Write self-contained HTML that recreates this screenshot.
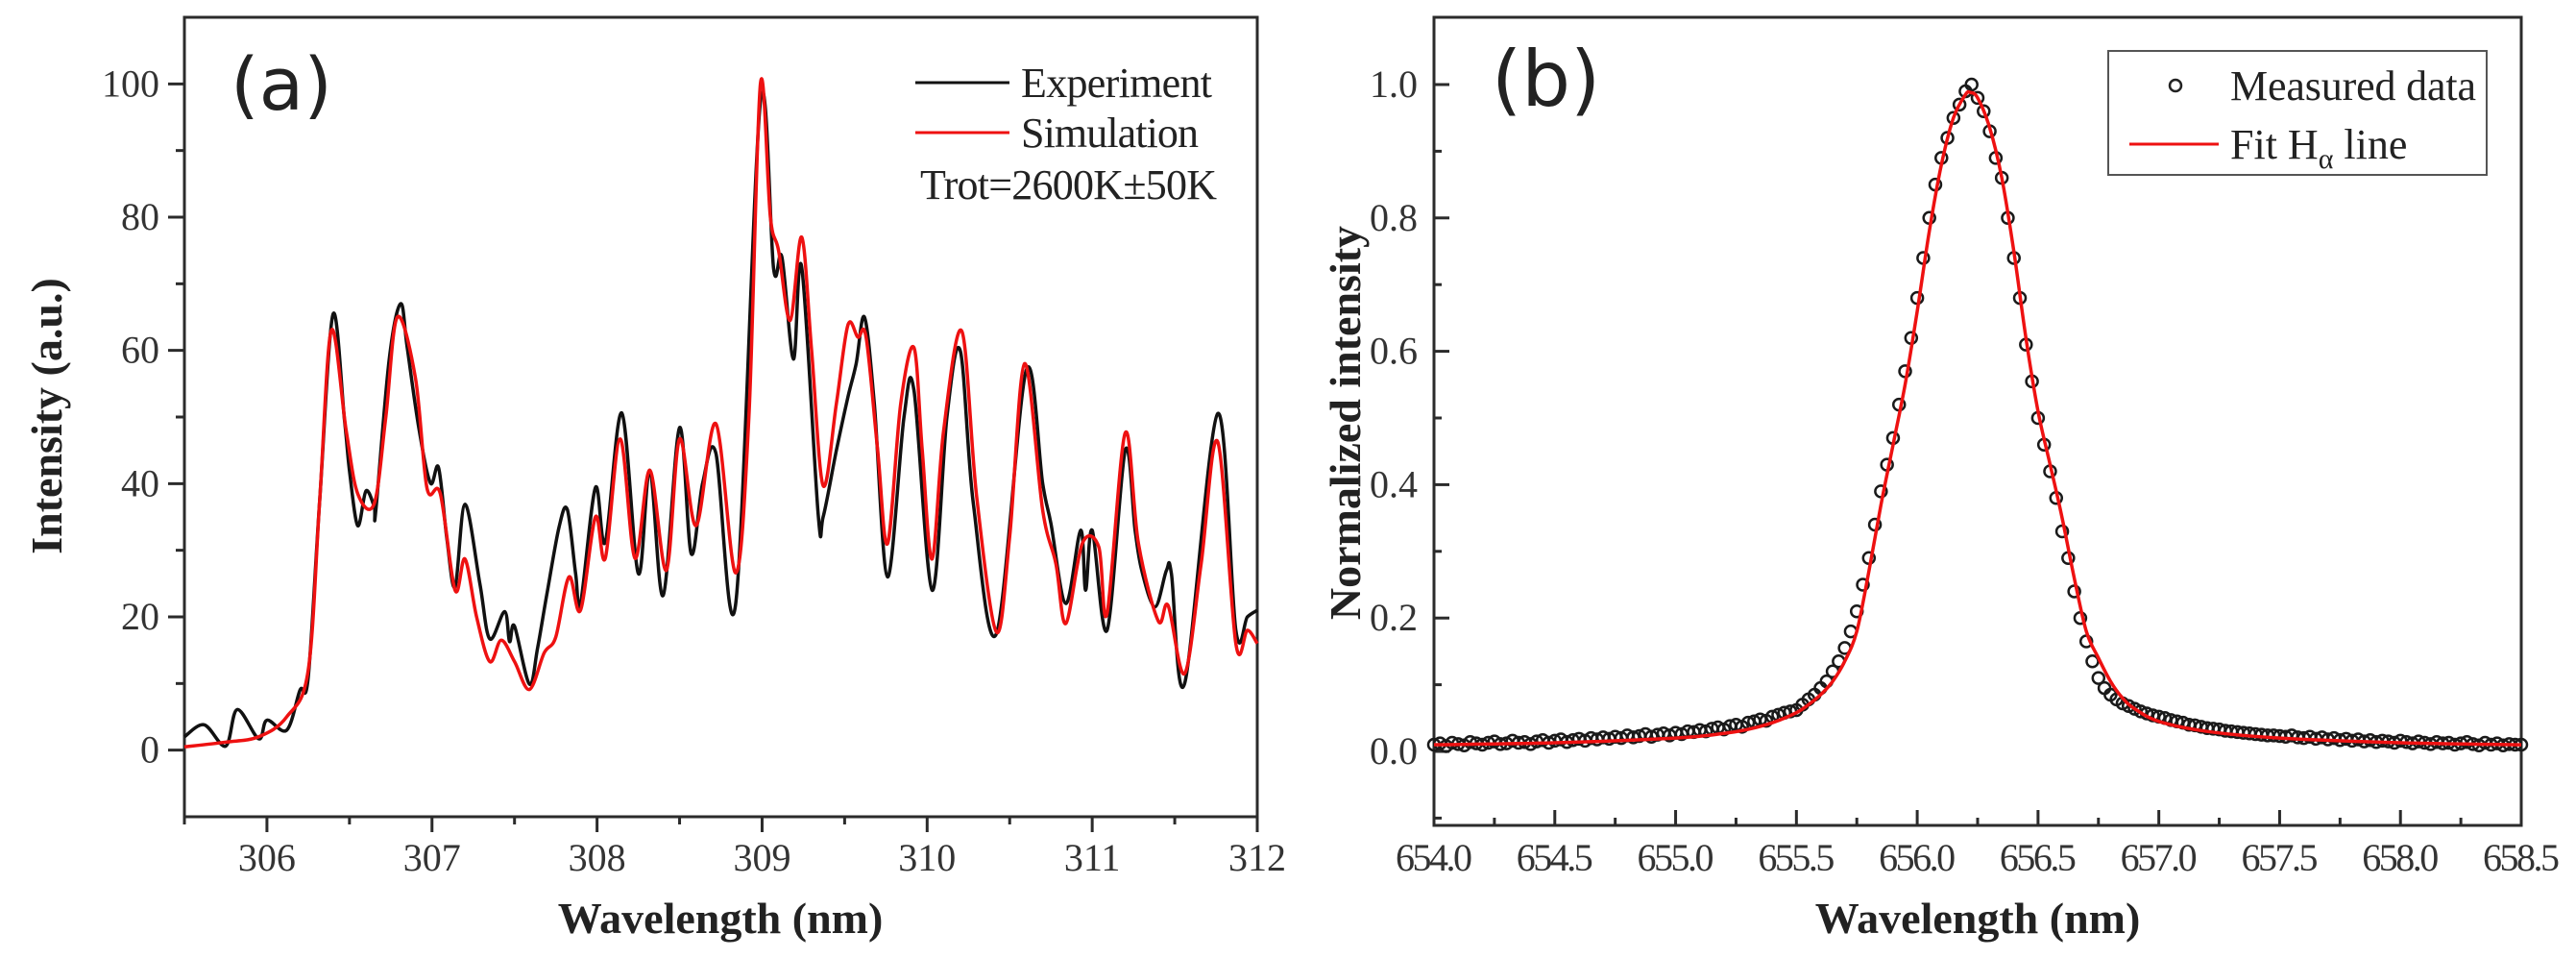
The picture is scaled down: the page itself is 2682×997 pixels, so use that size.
<!DOCTYPE html>
<html><head><meta charset="utf-8"><style>
html,body{margin:0;padding:0;background:#fff;}
svg{display:block;font-family:"Liberation Serif",serif;}
</style></head><body>
<svg id="fig" width="2682" height="997" viewBox="0 0 2682 997" xmlns="http://www.w3.org/2000/svg">
<g id="chartA"></g>
<g id="chartB"></g>
</svg>
<script>
// ---------- Chart (a) data ----------
const expX = [305.5,305.62,305.75,305.82,305.95,306.0,306.12,306.2,306.25,306.32,306.4,306.47,306.5,306.55,306.6,306.65,306.66,306.74,306.81,306.85,306.92,306.99,307.04,307.09,307.14,307.2,307.29,307.35,307.44,307.47,307.5,307.59,307.64,307.7,307.77,307.82,307.87,307.9,307.99,308.05,308.15,308.25,308.32,308.4,308.5,308.57,308.64,308.72,308.84,308.99,309.07,309.12,309.19,309.24,309.34,309.37,309.45,309.52,309.57,309.62,309.68,309.76,309.86,309.92,310.03,310.12,310.2,310.28,310.42,310.6,310.7,310.75,310.84,310.93,310.96,311.0,311.09,311.2,311.26,311.3,311.38,311.45,311.48,311.56,311.76,311.87,311.94,312.0];
const expY = [2,3.8,0.6,6.1,1.7,4.5,3,9,10.9,37.6,65.4,49.5,42,33.7,38.9,36.6,36,58.5,67,60.4,48.4,40.1,42.4,31.8,24.5,36.9,25,16.7,20.8,16.3,18.6,9.9,15.4,24,33.5,36.1,26.5,22,39.4,31.2,50.6,26.5,42,23.2,48.4,29.5,40.1,44.6,22,97.3,72.2,74,58.7,72.5,35.3,35,45,53,58,65,52,26,50,54,24,50,60,37,17.5,57,40,34,22,33,24,33,18,45,33,27,21.5,27,26.5,10,50.5,18,20,21];
const simX = [305.5,305.75,305.95,306.12,306.25,306.32,306.39,306.48,306.55,306.65,306.72,306.79,306.9,306.97,307.05,307.14,307.2,307.27,307.35,307.42,307.5,307.59,307.68,307.75,307.83,307.9,307.99,308.05,308.14,308.23,308.32,308.42,308.5,308.6,308.72,308.84,308.92,308.99,309.05,309.1,309.17,309.24,309.3,309.37,309.45,309.52,309.58,309.63,309.7,309.76,309.84,309.92,309.97,310.03,310.1,310.21,310.3,310.42,310.5,310.59,310.7,310.78,310.84,310.94,311.04,311.09,311.2,311.28,311.4,311.46,311.56,311.66,311.76,311.87,311.94,312.0];
const simY = [0.5,1.2,2.0,5,12,37.6,63,48,38.5,37,50,65,55.8,39.3,38.5,24,28.7,20,13.3,16.5,13.3,9.1,14.6,17,26,21,35,28.8,46.7,28.8,42,27,46.7,33.7,49,26.6,50,100,80,75,64.5,77,60,39.7,52,63.8,62,62,45,31,52,60.4,45,28.7,48,62.9,38,17.7,32,58,36,28,19,31,30.5,20.5,47.6,31,19.4,21.7,11.5,28,46.3,16,18,16];
const aYTicks = [0,20,40,60,80,100];
const aXTicks = [306,307,308,309,310,311,312];

// ---------- Chart (b) data ----------
const measStart = 654.0, measStep = 0.025;
const measY = [0.010,0.012,0.008,0.013,0.011,0.009,0.014,0.012,0.010,0.013,0.015,0.011,0.012,0.016,0.013,0.014,0.011,0.015,0.017,0.013,0.016,0.018,0.014,0.017,0.019,0.016,0.020,0.018,0.021,0.019,0.022,0.020,0.024,0.021,0.023,0.026,0.022,0.025,0.027,0.024,
0.028,0.026,0.030,0.029,0.032,0.030,0.034,0.036,0.033,0.038,0.040,0.037,0.043,0.045,0.048,0.046,0.052,0.055,0.058,0.060,
0.062,0.070,0.078,0.085,0.095,0.105,0.12,0.135,0.155,0.18,0.21,0.25,0.29,0.34,0.39,0.43,0.47,0.52,0.57,0.62,
0.68,0.74,0.80,0.85,0.89,0.92,0.95,0.97,0.99,1.00,0.98,0.96,0.93,0.89,0.86,0.80,0.74,0.68,0.61,0.555,
0.50,0.46,0.42,0.38,0.33,0.29,0.24,0.20,0.165,0.135,0.11,0.095,0.085,0.078,0.072,0.068,0.064,0.060,0.057,0.054,
0.052,0.050,0.047,0.045,0.043,0.040,0.039,0.037,0.035,0.034,0.033,0.031,0.030,0.029,0.028,0.027,0.026,0.025,0.024,0.024,
0.023,0.022,0.024,0.021,0.020,0.022,0.019,0.021,0.018,0.020,0.017,0.019,0.016,0.018,0.015,0.017,0.014,0.016,0.015,0.013,0.016,0.014,0.012,0.015,0.013,0.011,0.014,0.012,0.013,0.010,0.012,0.014,0.011,0.009,0.013,0.010,0.012,0.009,0.011,0.010,
0.010];
const fitX = [654.0,654.5,655.0,655.2,655.3,655.4,655.5,655.55,655.6,655.65,655.7,655.75,655.8,655.85,655.9,655.95,656.0,656.05,656.1,656.15,656.2,656.22,656.25,656.3,656.35,656.4,656.45,656.5,656.55,656.6,656.65,656.7,656.75,656.8,656.85,656.9,657.0,657.2,657.5,658.0,658.5];
const fitY = [0.010,0.013,0.020,0.027,0.033,0.043,0.058,0.070,0.085,0.105,0.135,0.18,0.27,0.37,0.46,0.55,0.66,0.78,0.88,0.95,0.985,0.988,0.98,0.935,0.86,0.75,0.62,0.51,0.43,0.35,0.26,0.18,0.14,0.105,0.08,0.064,0.045,0.030,0.020,0.013,0.010];
const bYTicks = [0.0,0.2,0.4,0.6,0.8,1.0];
const bXTicks = [654.0,654.5,655.0,655.5,656.0,656.5,657.0,657.5,658.0,658.5];

const NS = "http://www.w3.org/2000/svg";
function mk(parent, tag, attrs){ const e=document.createElementNS(NS,tag); for(const k in attrs) e.setAttribute(k,attrs[k]); parent.appendChild(e); return e; }
function smooth(pts){
  let d='M'+pts[0][0]+','+pts[0][1];
  for(let i=0;i<pts.length-1;i++){
    const p0=pts[Math.max(0,i-1)],p1=pts[i],p2=pts[i+1],p3=pts[Math.min(pts.length-1,i+2)];
    const c1x=p1[0]+(p2[0]-p0[0])/6,c1y=p1[1]+(p2[1]-p0[1])/6;
    const c2x=p2[0]-(p3[0]-p1[0])/6,c2y=p2[1]-(p3[1]-p1[1])/6;
    d+=' C'+c1x.toFixed(1)+','+c1y.toFixed(1)+' '+c2x.toFixed(1)+','+c2y.toFixed(1)+' '+p2[0].toFixed(1)+','+p2[1].toFixed(1);
  }
  return d;
}
const AX = "#2b2b2b";

// ---------- Chart A ----------
(function(){
  const g = document.getElementById('chartA');
  const L=192,R=1309,T=18,B=850;
  const x0=305.5,x1=312,y0=-10,y1=110;
  const xs=v=>L+(v-x0)/(x1-x0)*(R-L);
  const ys=v=>B-(v-y0)/(y1-y0)*(B-T);
  const frame = mk(g,'rect',{x:L,y:T,width:R-L,height:B-T,fill:'none',stroke:AX,'stroke-width':3});
  
  
  for(let v=0; v<=100; v+=10){
    const major = v%20===0;
    const t = mk(g,'line',{x1:L-(major?17:9),x2:L,y1:ys(v),y2:ys(v),stroke:AX,'stroke-width':3});
    
    
  }
  aYTicks.forEach(v=>{
    const t = mk(g,'text',{x:166,y:ys(v)+13,'text-anchor':'end','font-size':40,fill:'#333'});
    t.textContent=v;
    
    
  });
  for(let v=305.5; v<=312.001; v+=0.5){
    const major = Math.abs(v-Math.round(v))<1e-6;
    const t = mk(g,'line',{x1:xs(v),x2:xs(v),y1:B,y2:B+(major?16:8),stroke:AX,'stroke-width':3});
    
    
  }
  aXTicks.forEach(v=>{
    const t = mk(g,'text',{x:xs(v),y:906,'text-anchor':'middle','font-size':40,fill:'#333'});
    t.textContent=v;
    
    
  });
  const exp = mk(g,'path',{d:smooth(expX.map((x,i)=>[xs(x),ys(expY[i])])),fill:'none',stroke:'#111','stroke-width':3.5,'stroke-linejoin':'round'});
  
  
  const sim = mk(g,'path',{d:smooth(simX.map((x,i)=>[xs(x),ys(simY[i])])),fill:'none',stroke:'#ee1111','stroke-width':3.5,'stroke-linejoin':'round'});
  
  
  const lab = mk(g,'text',{x:240,y:114,'font-size':76,fill:'#222','font-family':'DejaVu Sans, sans-serif'});
  lab.textContent='(a)';
  
  
  const l1 = mk(g,'line',{x1:953,x2:1051,y1:86,y2:86,stroke:'#111','stroke-width':3});
  
  
  const t1 = mk(g,'text',{x:1063,y:101,'font-size':44,fill:'#222',textLength:199});
  t1.textContent='Experiment';
  
  
  const l2 = mk(g,'line',{x1:953,x2:1051,y1:138,y2:138,stroke:'#ee1111','stroke-width':3});
  
  
  const t2 = mk(g,'text',{x:1063,y:153,'font-size':44,fill:'#222',textLength:185});
  t2.textContent='Simulation';
  
  
  const t3 = mk(g,'text',{x:958,y:207,'font-size':44,fill:'#222',textLength:309});
  t3.textContent='Trot=2600K±50K';
  
  
  const xt = mk(g,'text',{x:750,y:971,'text-anchor':'middle','font-size':46,'font-weight':'bold',fill:'#222'});
  xt.textContent='Wavelength (nm)';
  
  
  const yt = mk(g,'text',{x:0,y:0,'text-anchor':'middle','font-size':46,'font-weight':'bold',fill:'#222',transform:'translate(64,433) rotate(-90)'});
  yt.textContent='Intensity (a.u.)';
  
  
})();

// ---------- Chart B ----------
(function(){
  const g = document.getElementById('chartB');
  const L=1493,R=2625,T=18,B=859;
  const x0=654,x1=658.5;
  const xs=v=>L+(v-x0)/(x1-x0)*(R-L);
  const ys=v=>782-v*694;
  const frame = mk(g,'rect',{x:L,y:T,width:R-L,height:B-T,fill:'none',stroke:AX,'stroke-width':3});
  
  
  for(let i=-1;i<=10;i++){
    const v=i/10; const major=i%2===0;
    const t = mk(g,'line',{x1:L,x2:L+(major?16:8),y1:ys(v),y2:ys(v),stroke:AX,'stroke-width':3});
    
    
  }
  bYTicks.forEach(v=>{
    const t = mk(g,'text',{x:1476,y:ys(v)+13,'text-anchor':'end','font-size':40,fill:'#333'});
    t.textContent=v.toFixed(1);
    
    
  });
  for(let i=0;i<=18;i++){
    const v=654+i*0.25; const major=i%2===0;
    const t = mk(g,'line',{x1:xs(v),x2:xs(v),y1:B,y2:B-(major?16:8),stroke:AX,'stroke-width':3});
    
    
  }
  bXTicks.forEach(v=>{
    const t = mk(g,'text',{x:xs(v),y:906,'text-anchor':'middle','font-size':40,fill:'#333',textLength:80});
    t.textContent=v.toFixed(1);
    
    
  });
  measY.forEach((v,i)=>{
    const c = mk(g,'circle',{cx:xs(measStart+i*measStep),cy:ys(v),r:6,fill:'none',stroke:'#1a1a1a','stroke-width':2.5});
    
    
  });
  const fit = mk(g,'path',{d:smooth(fitX.map((x,i)=>[xs(x),ys(fitY[i])])),fill:'none',stroke:'#ee1111','stroke-width':3.5,'stroke-linejoin':'round'});
  
  
  const lab = mk(g,'text',{x:1553,y:110,'font-size':80,fill:'#222','font-family':'DejaVu Sans, sans-serif'});
  lab.textContent='(b)';
  
  
  const box = mk(g,'rect',{x:2195,y:53,width:394,height:129,fill:'#fff',stroke:'#555','stroke-width':2});
  
  
  const lc = mk(g,'circle',{cx:2265,cy:89,r:6,fill:'none',stroke:'#222','stroke-width':2.5});
  
  
  const lt1 = mk(g,'text',{x:2322,y:104,'font-size':44,fill:'#222',textLength:256});
  lt1.textContent='Measured data';
  
  
  const ll = mk(g,'line',{x1:2217,x2:2310,y1:150,y2:150,stroke:'#ee1111','stroke-width':3});
  
  
  const lt2 = mk(g,'text',{x:2322,y:165,'font-size':44,fill:'#222'});
  
  
  lt2.appendChild(document.createTextNode('Fit H'));
  const sub = mk(lt2,'tspan',{'font-size':30,dy:10});
  sub.textContent='α';
  const rest = mk(lt2,'tspan',{dy:-10});
  rest.textContent=' line';
  const xt = mk(g,'text',{x:2059,y:971,'text-anchor':'middle','font-size':46,'font-weight':'bold',fill:'#222'});
  xt.textContent='Wavelength (nm)';
  
  
  const yt = mk(g,'text',{x:0,y:0,'text-anchor':'middle','font-size':46,'font-weight':'bold',fill:'#222',transform:'translate(1416,440) rotate(-90)'});
  yt.textContent='Normalized intensity';
  
  
})();
</script>
</body></html>
